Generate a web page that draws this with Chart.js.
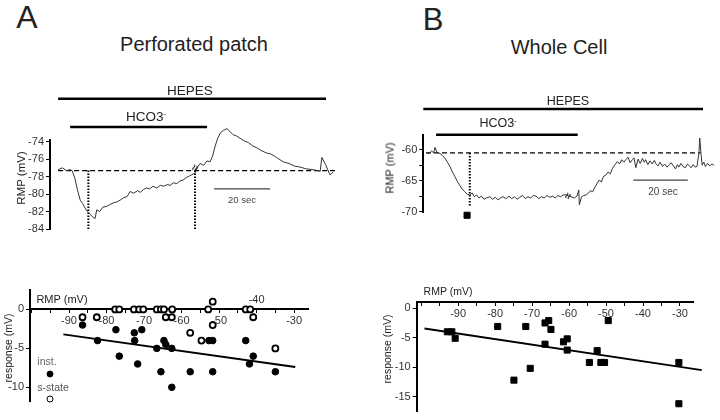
<!DOCTYPE html>
<html>
<head>
<meta charset="UTF-8">
<title>HCO3- response, perforated patch vs whole cell</title>
<style>
    body { margin: 0; background: #fff; }
    #fig { position: relative; width: 720px; height: 420px; overflow: hidden; font-family: "Liberation Sans", Arial, sans-serif; color: #222; }
    #fig canvas { position: absolute; }
    .lbl { position: absolute; transform: translate(-50%, -50%); white-space: nowrap; line-height: 1; }
    .rot { transform: translate(-50%, -50%) rotate(-90deg); }
    .dot { position: absolute; width: 5px; height: 5px; border-radius: 50%; border: 1px solid #000; transform: translate(-50%, -50%); }
    sup { font-size: 60%; vertical-align: 0.6em; }
</style>
</head>
<body>
<div id="fig">
    <canvas id="traceA" width="345" height="170" style="left:0;top:80px"></canvas>
    <canvas id="scatterA" width="320" height="150" style="left:0;top:262px"></canvas>
    <canvas id="traceB" width="350" height="150" style="left:370px;top:80px"></canvas>
    <canvas id="scatterB" width="350" height="150" style="left:370px;top:270px"></canvas>

    <span class="lbl" style="left:27px;top:17px;font-size:32px">A</span>
    <span class="lbl" style="left:194px;top:44px;font-size:20px">Perforated patch</span>
    <span class="lbl" style="left:433px;top:19px;font-size:31px">B</span>
    <span class="lbl" style="left:559px;top:47px;font-size:20px">Whole Cell</span>

    <span class="lbl" style="left:190px;top:91px;font-size:13.5px">HEPES</span>
    <span class="lbl" style="left:146px;top:117px;font-size:13.5px">HCO3<sup>-</sup></span>
    <span class="lbl" style="left:242px;top:200px;font-size:9.5px;color:#444">20 sec</span>
    <span class="lbl rot" style="left:22px;top:178px;font-size:11.5px;color:#222">RMP (mV)</span>
    <span class="lbl" style="left:195px;top:168px;font-size:11px;font-weight:bold;transform:translate(-50%,-50%) rotate(-65deg)">≈</span>

    <span class="lbl" style="left:568px;top:101px;font-size:12.5px">HEPES</span>
    <span class="lbl" style="left:498px;top:123px;font-size:12.5px">HCO3<sup>-</sup></span>
    <span class="lbl" style="left:663px;top:192px;font-size:10px;color:#444">20 sec</span>
    <span class="lbl rot" style="left:390px;top:168px;font-size:11px;color:#222">RMP (mV)</span>
    <span class="lbl" style="left:568px;top:196px;font-size:11px;font-weight:bold;transform:translate(-50%,-50%) rotate(-65deg)">≈</span>

    <span class="lbl" style="left:62px;top:299px;font-size:11px">RMP (mV)</span>
    <span class="lbl rot" style="left:8px;top:348px;font-size:10.5px;color:#222">response (mV)</span>
    <span class="lbl" style="left:47px;top:361px;font-size:10.5px;color:#666">inst.</span>
    <span class="dot" style="left:50px;top:374px;background:#000"></span>
    <span class="lbl" style="left:53px;top:387px;font-size:10.5px;color:#555">s-state</span>
    <span class="dot" style="left:50px;top:399px;background:#fff;border-width:1.8px"></span>

    <span class="lbl" style="left:448px;top:291px;font-size:10.5px">RMP (mV)</span>
    <span class="lbl rot" style="left:387px;top:349px;font-size:10.5px;color:#222">response (mV)</span>
</div>

<script src="https://cdn.jsdelivr.net/npm/chart.js"></script>
<script>
    const FONT = '"Liberation Sans", Arial, sans-serif';

    // A: perforated patch recording, time (s) vs RMP (mV)
    const traceATime = [0, 1.5, 3, 4.3, 5, 6, 6.9, 7.9, 8.8, 9.6, 10.5, 11.4, 12.3, 13.2, 13.8, 14.8, 16, 17.4, 18.5, 19.8,
        21, 22.1, 23.5, 24.6, 25.7, 27, 28.4, 29.4, 30.4, 31.5, 32.7, 33.9, 35.2, 36.5, 37.8, 39, 40, 41.2, 42.4, 43.5,
        44.6, 45.8, 47, 48.9, 50, 50.7, 52, 53.2, 54.3, 55.2, 56.1, 57, 57.9, 59, 60.3, 61.3, 62.5, 63.5, 65, 66.5,
        68, 69.6, 71, 72.5, 74.5, 76, 78, 80.4, 82.5, 84.5, 86.4, 88.5, 91.1, 92.5, 93.6, 94.2, 95.5, 97.1, 98.2];
    const traceAmV = [-77.2, -77.0, -77.3, -77.2, -77.3, -78.2, -79.5, -80.7, -81.1, -81.6, -82.0, -82.3, -82.6, -82.8, -81.8, -82.0, -81.5, -81.4, -81.2, -81.0,
        -80.9, -80.7, -80.4, -80.3, -79.7, -79.9, -79.6, -79.8, -79.5, -79.3, -79.4, -79.1, -79.3, -79.0, -79.1, -78.9, -79.0, -78.7, -78.8, -78.5,
        -78.4, -78.1, -77.9, -77.6, -76.8, -76.5, -76.7, -76.2, -76.3, -75.6, -74.5, -73.6, -73.0, -72.7, -72.5, -72.8, -73.2, -73.3, -73.6, -73.9,
        -74.1, -74.5, -74.7, -75.0, -75.3, -75.4, -75.8, -76.3, -76.5, -76.8, -76.9, -77.1, -77.2, -77.3, -77.4, -75.8, -76.6, -77.8, -77.5];
    const baselineA = -77.3;
    const markTimesA = [10.8, 48.9];      // instantaneous, steady state
    const hepesA = [0, 95.7];
    const hco3A = [4.3, 53.2];
    const scaleBarA = [55.7, 75.7];      // 20 sec

    // A: response vs RMP
    const instRmp = [-86.4, -82.4, -77.5, -76.6, -72.6, -72.5, -70.6, -71.7, -66.6, -65.5, -64.7, -64.2, -62.6, -62.6, -57.7, -52.7, -51.7, -51.7, -42.9, -41.9, -40.9, -35.0];
    const instResp = [-2, -4, -2.6, -6, -3, -4, -2.6, -7, -5, -8, -4, -4.5, -5, -10, -8, -4, -4, -8, -4, -7, -6, -8];
    const sstateRmp = [-77.7, -76.6, -72.7, -71.3, -70.2, -66.6, -65.5, -64.7, -62.5, -52.9, -42.9, -41.7, -86.4, -82.6, -64.2, -62.6, -57.7, -54.7, -51.7, -51.7, -40.9, -35.0];
    const sstateResp = [0, 0, 0, 0, 0, 0, 0, 0, 0, 0, 0, 0, -1, -1, -1, -1, -3, -4, -2, 1, -1, -5];
    const fitARmp = [-91.5, -29.7];
    const fitAResp = [-3.2, -7.4];
    const raisedTickA = -40;

    // B: whole cell recording, time (s) vs RMP (mV)
    const traceBTime = [0, 1, 2.1, 2.8, 3.3, 4.0, 5.1, 6, 7.0, 8, 8.8, 9.7, 10.6, 11.5, 12.5, 13.4, 14.3, 15.2, 16.1, 17,
        17.8, 18.6, 19.5, 20.4, 21.3, 22.2, 23.5, 24.5, 25.5, 26.5, 27.4, 28.3, 29.5, 30.5, 31.5, 32.5, 33.5, 34.4, 35.5, 36.5,
        37.5, 38.5, 39.5, 40.5, 41.5, 42.5, 43.5, 44.5, 45.5, 46.6, 47.5, 48.5, 49.5, 50.5, 51.5, 54.6, 55.5, 56.2, 56.4, 57.2,
        58, 58.9, 59.8, 60.5, 61.3, 62.2, 63, 63.7, 64.5, 65.3, 66.2, 67, 67.8, 68.6, 69.5, 70.4, 71.2, 72, 72.8, 73.5,
        74.3, 75.1, 75.9, 76.5, 77.2, 78, 78.8, 79.6, 80.3, 80.8, 81.6, 82.4, 83.2, 84, 84.5, 85.3, 86.1, 87, 87.8, 88.6,
        89.4, 90.2, 91, 91.8, 92.5, 93, 93.8, 94.6, 95.4, 96.2, 96.7, 97.5, 98.3, 99, 99.7, 100.4, 100.7, 101.2, 101.6, 102.2,
        102.8, 103.6, 104.4, 105.2, 105.9];
    const traceBmV = [-60.4, -60.6, -60.2, -60.5, -59.6, -60.4, -60.6, -60.9, -61.4, -62.1, -62.7, -63.6, -64.3, -65.1, -65.8, -66.4, -66.8, -67.2, -67.3, -67.0,
        -67.6, -67.3, -67.8, -67.5, -68.0, -67.8, -67.6, -68.0, -67.7, -68.1, -67.8, -67.6, -67.9, -67.5, -67.9, -67.6, -68.0, -67.7, -67.4, -67.9,
        -67.6, -67.8, -67.4, -67.5, -67.9, -67.6, -67.8, -67.4, -67.7, -67.5, -67.8, -67.4, -67.6, -67.3, -67.3, -67.8, -67.5, -66.5, -68.9, -67.6,
        -67.4, -67.3, -67.0, -66.6, -66.8, -66.0, -65.4, -64.9, -65.2, -64.3, -64.1, -63.6, -63.9, -63.0, -62.4, -61.9, -62.3, -61.6, -62.0, -61.6,
        -61.2, -62.1, -61.6, -61.3, -62.9, -61.5, -62.2, -61.4, -62.0, -61.6, -62.4, -61.8, -62.3, -61.7, -62.2, -62.6, -62.0, -62.7, -62.3, -62.8,
        -62.5, -62.1, -62.6, -63.1, -62.4, -62.8, -62.2, -62.7, -62.9, -62.3, -62.5, -62.9, -62.4, -62.8, -62.7, -60.5, -58.1, -60.8, -62.5, -62.0,
        -62.7, -62.2, -62.6, -62.3, -62.5];
    const baselineB = -60.5;
    const markTimeB = 16.1;
    const hepesB = [-1, 101.9];
    const hco3B = [3.7, 55.8];
    const scaleBarB = [76.3, 96.3];

    // B: response vs RMP
    const wcRmp = [-92.9, -91.7, -90.8, -79.3, -71.7, -74.9, -70.5, -66.5, -65.5, -64.9, -66.5, -61.5, -60.5, -60.5, -54.5, -52.4, -51.4, -50.4, -49.4, -30.3, -30.3];
    const wcResp = [-4.0, -4.0, -5.1, -3.1, -3.1, -12.2, -10.2, -2.5, -2.1, -3.6, -6.1, -5.7, -5.2, -7.1, -9.2, -7.2, -9.2, -9.2, -2.1, -9.2, -16.2];
    const fitBRmp = [-99.1, -24.1];
    const fitBResp = [-3.45, -10.5];

    const xy = (xs, ys) => xs.map((x, i) => ({ x: x, y: ys[i] }));
    const hline = (span, y) => [{ x: span[0], y: y }, { x: span[1], y: y }];
    const vline = (x, y0, y1) => [{ x: x, y: y0 }, { x: x, y: y1 }];

    function lineSet(data, opts) {
        return Object.assign({ data: data, showLine: true, borderColor: '#000', borderWidth: 1, pointRadius: 0, fill: false, clip: false, tension: 0 }, opts);
    }
    function markSet(data, opts) {
        return Object.assign({ data: data, showLine: false, pointRadius: 3.3, pointBorderWidth: 1, pointBorderColor: '#000', pointBackgroundColor: '#000', clip: false }, opts);
    }

    function yAxis(min, max, step, width, labelEvery) {
        return {
            min: min,
            max: max,
            afterFit: s => { s.width = width; },
            border: { color: '#000', width: 2 },
            grid: { drawOnChartArea: false, color: '#000', tickLength: 4, tickWidth: 1 },
            ticks: {
                stepSize: step, includeBounds: false, autoSkip: false, padding: 2, color: '#333', font: { family: FONT, size: 11 },
                callback: v => (Math.abs(v % labelEvery) < 1e-6 ? String(v) : '')
            }
        };
    }
    function xAxisAt(min, max, yVal, skip) {
        return {
            type: 'linear', min: min, max: max, position: { y: yVal },
            border: { color: '#000', width: 2 },
            grid: { drawOnChartArea: false, color: '#000', tickLength: 3 },
            ticks: {
                stepSize: 5, includeBounds: false, padding: 2, maxRotation: 0, autoSkip: false, color: '#333', font: { family: FONT, size: 11 },
                callback: v => (v % 10 === 0 && v >= -90 && v <= -30 && v !== skip ? String(v) : '')
            }
        };
    }
    function baseOptions(padding, scales) {
        return {
            animation: false, responsive: false, devicePixelRatio: 1,
            layout: { padding: padding },
            plugins: { legend: { display: false }, tooltip: { enabled: false } },
            scales: scales
        };
    }

    // the -40 tick label sits above the axis line in panel A
    const raisedLabel = {
        id: 'raisedLabel',
        afterDraw(chart) {
            const c = chart.ctx;
            c.save();
            c.fillStyle = '#333';
            c.font = '11px ' + FONT;
            c.textAlign = 'center';
            c.textBaseline = 'middle';
            c.fillText(String(raisedTickA), chart.scales.x.getPixelForValue(raisedTickA), chart.scales.y.getPixelForValue(0) - 9);
            c.restore();
        }
    };

    new Chart(document.getElementById('traceA'), {
        type: 'line',
        data: {
            datasets: [
                lineSet(xy(traceATime, traceAmV), { borderColor: '#333' }),
                lineSet(hline([0, 98.9], baselineA), { borderDash: [5, 3], borderWidth: 1.2 }),
                lineSet(vline(markTimesA[0], baselineA, -84), { borderDash: [1.5, 1.5], borderWidth: 2 }),
                lineSet(vline(markTimesA[1], baselineA, -84), { borderDash: [1.5, 1.5], borderWidth: 2 }),
                lineSet(hline(hepesA, -69.06), { borderWidth: 2.5 }),
                lineSet(hline(hco3A, -72.3), { borderWidth: 2.5 }),
                lineSet(hline(scaleBarA, -79.4), { borderWidth: 1.3, borderColor: '#444' }),
                markSet([{ x: markTimesA[0], y: -84.7 }]),
                markSet([{ x: markTimesA[1], y: -84.7 }], { pointBackgroundColor: '#fff', pointBorderWidth: 1.2 })
            ]
        },
        options: baseOptions({ top: 60, bottom: 21, right: 10, left: 0 }, {
            x: { type: 'linear', display: false, min: -2.9, max: 98.9 },
            y: yAxis(-84, -73.8, 2, 50, 2)
        })
    });

    new Chart(document.getElementById('scatterA'), {
        type: 'scatter',
        data: {
            datasets: [
                markSet(xy(sstateRmp, sstateResp), { pointBackgroundColor: '#fff', pointBorderWidth: 1.8, pointRadius: 3, order: 1 }),
                markSet(xy(instRmp, instResp), { order: 2 }),
                lineSet(xy(fitARmp, fitAResp), { borderWidth: 2, order: 3 })
            ]
        },
        options: baseOptions({ top: 28, bottom: 10.3, right: 12, left: 0 }, {
            x: xAxisAt(-100.4, -26.3, 0, raisedTickA),
            y: yAxis(-11.85, 2.5, 5, 30, 5)
        }),
        plugins: [raisedLabel]
    });

    new Chart(document.getElementById('traceB'), {
        type: 'line',
        data: {
            datasets: [
                lineSet(xy(traceBTime, traceBmV), { borderColor: '#333' }),
                lineSet(hline([0, 101], baselineB), { borderDash: [5, 3], borderWidth: 1.2 }),
                lineSet(vline(markTimeB, baselineB, -69.2), { borderDash: [1.5, 1.5], borderWidth: 2 }),
                lineSet(hline(hepesB, -53.4), { borderWidth: 2.5 }),
                lineSet(hline(hco3B, -57.57), { borderWidth: 2.5 }),
                lineSet(hline(scaleBarB, -64.9), { borderWidth: 1.3, borderColor: '#444' }),
                markSet([{ x: 15.1, y: -70.6 }], { pointStyle: 'rect', pointRadius: 4.3 })
            ]
        },
        options: baseOptions({ top: 55, bottom: 17.2, right: 4, left: 0 }, {
            x: { type: 'linear', display: false, min: -1, max: 106.2 },
            y: yAxis(-70.2, -57.6, 2.5, 53.3, 5)
        })
    });

    new Chart(document.getElementById('scatterB'), {
        type: 'scatter',
        data: {
            datasets: [
                markSet(xy(wcRmp, wcResp), { pointStyle: 'rect', pointRadius: 4.3, order: 1 }),
                lineSet(xy(fitBRmp, fitBResp), { borderWidth: 2, order: 2 })
            ]
        },
        options: baseOptions({ top: 32.3, bottom: 6.7, right: 26.7, left: 0 }, {
            x: xAxisAt(-101.2, -26.4, 1.0, null),
            y: yAxis(-17.5, 1.0, 5, 46.7, 5)
        })
    });
</script>
</body>
</html>
